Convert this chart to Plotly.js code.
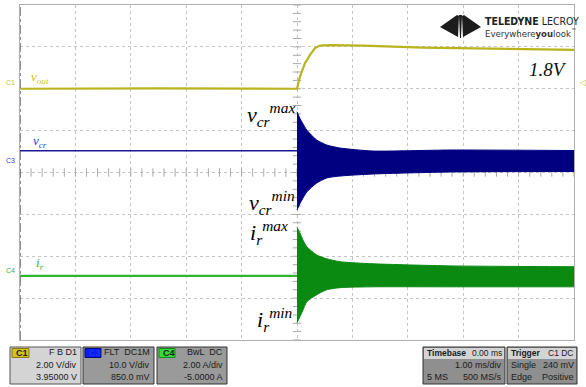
<!DOCTYPE html>
<html>
<head>
<meta charset="utf-8">
<script src="https://cdn.plot.ly/plotly-3.0.1.min.js"></script>
<style>html,body{margin:0;padding:0;background:#fff;}#chart{width:586px;height:387px;}</style>
</head>
<body>
<div id="chart"></div>
<script>
// ---- data (x: time in ms, 1 ms/div; y: screen divisions) ----
const tVout = [-5, -2.5, 0, 0.054, 0.144, 0.235, 0.325, 0.415, 0.596, 0.897, 1.19, 2.27, 3.5, 5];
const vout  = [2.0, 2.01, 2.0, 2.29, 2.61, 2.81, 2.97, 3.03, 3.04, 3.04, 3.03, 2.98, 2.95, 2.93];

const tPre   = [-5, 0];
const vcrPre = [0.52, 0.52];
const irPre  = [-2.47, -2.47];

const tEnv   = [0, 0.05, 0.1, 0.175, 0.356, 0.536, 0.776, 1.37, 2.76, 5];
const vcrMax = [1.45, 1.30, 1.18, 1.015, 0.776, 0.657, 0.585, 0.513, 0.537, 0.525];
const vcrMin = [-0.896, -0.75, -0.63, -0.466, -0.251, -0.131, -0.084, -0.036, 0.012, 0.024];
const irMax  = [-1.31, -1.44, -1.59, -1.77, -1.97, -2.06, -2.13, -2.18, -2.23, -2.25];
const irMin  = [-3.59, -3.45, -3.31, -3.09, -2.92, -2.80, -2.75, -2.73, -2.73, -2.73];

// ---- geometry helpers (pixel -> paper) ----
const L = 20, R = 574, T = 5, B = 340;
const X = px => (px - L) / (R - L);
const Y = py => (B - py) / (B - T);

const YEL = '#b9b31c', BLU = '#000080', GRN = '#0b8a12';

// minor tick marks on centre lines (decoration)
const tkx = [], tky = [], tvx = [], tvy = [];
for (let i = -25; i <= 25; i++) { tkx.push(i / 5); tky.push(0); }
for (let i = -20; i <= 20; i++) { tvx.push(0); tvy.push(i / 5); }

const traces = [
  {x: tkx, y: tky, mode: 'markers', marker: {symbol: 'line-ns', size: 6, line: {width: 1, color: '#aaa'}}, hoverinfo: 'skip'},
  {x: tvx, y: tvy, mode: 'markers', marker: {symbol: 'line-ew', size: 6, line: {width: 1, color: '#aaa'}}, hoverinfo: 'skip'},
  {x: tVout, y: vout, mode: 'lines', line: {color: YEL, width: 2.2}},
  {x: tPre, y: vcrPre, mode: 'lines', line: {color: '#1a1a99', width: 1.3}},
  {x: tEnv, y: vcrMax, mode: 'lines', line: {color: BLU, width: 1, shape: 'spline', smoothing: 0.6}},
  {x: tEnv, y: vcrMin, mode: 'lines', fill: 'tonexty', fillcolor: BLU, line: {color: BLU, width: 1, shape: 'spline', smoothing: 0.6}},
  {x: tPre, y: irPre, mode: 'lines', line: {color: '#2fb52f', width: 2.2}},
  {x: tEnv, y: irMax, mode: 'lines', line: {color: GRN, width: 1, shape: 'spline', smoothing: 0.6}},
  {x: tEnv, y: irMin, mode: 'lines', fill: 'tonexty', fillcolor: GRN, line: {color: GRN, width: 1, shape: 'spline', smoothing: 0.6}}
];

const serif = 'Liberation Serif, Times New Roman, serif';
const sans = 'Liberation Sans, Arial, sans-serif';
const cond = 'DejaVu Sans Condensed, Liberation Sans Narrow, Arial Narrow, sans-serif';
const ann = [];
function txt(px, py, text, opts) {
  ann.push(Object.assign({xref: 'paper', yref: 'paper', x: X(px), y: Y(py), text: text, showarrow: false,
    xanchor: 'left', yanchor: 'middle', font: {family: sans, size: 9, color: '#1a1a1a'}}, opts || {}));
}
// big annotations
txt(297, 114, '<i>v</i><sub><i>cr</i></sub><sup><i>max</i></sup>', {xanchor: 'right', font: {family: serif, size: 22, color: '#000'}});
txt(297, 202, '<i>v</i><sub><i>cr</i></sub><sup><i>min</i></sup>', {xanchor: 'right', font: {family: serif, size: 22, color: '#000'}});
txt(290, 232, '<i>i</i><sub><i>r</i></sub><sup><i>max</i></sup>', {xanchor: 'right', font: {family: serif, size: 22, color: '#000'}});
txt(295, 319, '<i>i</i><sub><i>r</i></sub><sup><i>min</i></sup>', {xanchor: 'right', font: {family: serif, size: 22, color: '#000'}});
txt(527, 69, '<i>1.8V</i>', {font: {family: serif, size: 19, color: '#111'}});
// channel labels
txt(29, 77, '<i>v<sub>out</sub></i>', {font: {family: serif, size: 13, color: '#c9bf2a'}});
txt(31, 141, '<i>v<sub>cr</sub></i>', {font: {family: serif, size: 13, color: '#2a3ed6'}});
txt(34, 263, '<i>i<sub>r</sub></i>', {font: {family: serif, size: 13, color: '#2fb52f'}});
txt(4, 83, 'C1', {font: {family: sans, size: 7, color: '#c9bf2a'}});
txt(4, 160, 'C3', {font: {family: sans, size: 7, color: '#2a3ed6'}});
txt(4, 270, 'C4', {font: {family: sans, size: 7, color: '#2fb52f'}});
txt(577, 83, '◁', {font: {family: 'DejaVu Sans', size: 8, color: '#c9bf2a'}});
// logo text
txt(483, 21, '<b>TELEDYNE</b> LECROY', {font: {family: cond, size: 10.5, color: '#222'}});
txt(483, 33, 'Everywhere<b>you</b>look<sup>™</sup>', {font: {family: cond, size: 9.5, color: '#333'}});

// bottom info panels
const shapes = [];
function rect(x0, y0, x1, y1, fill, line) {
  shapes.push({type: 'rect', xref: 'paper', yref: 'paper', x0: X(x0), x1: X(x1), y0: Y(y1), y1: Y(y0),
    fillcolor: fill, line: {color: line || 'rgba(0,0,0,0)', width: line ? 1 : 0}, layer: 'above'});
}
function poly(pts, fill) {
  let p = 'M' + pts.map(q => X(q[0]) + ',' + Y(q[1])).join(' L') + ' Z';
  shapes.push({type: 'path', xref: 'paper', yref: 'paper', path: p, fillcolor: fill, line: {width: 0}, layer: 'above'});
}
// logo icon
poly([[440, 27], [457, 15], [459, 16], [458, 37]], '#1c1c1c');
poly([[481, 27], [464, 15], [462, 16], [463, 37]], '#1c1c1c');
poly([[459, 15], [462, 15], [461, 38], [460, 38]], '#1c1c1c');

// left border dash-dot
shapes.push({type: 'line', xref: 'x', yref: 'y', x0: -5, x1: -5, y0: -4, y1: 4, line: {color: '#444', width: 1.2, dash: 'dashdot'}, layer: 'above'});

// C1
rect(10, 347, 81, 384, '#d4d4d4', '#555');
rect(12, 348.5, 29, 357.5, '#d6c21e', '#8a7a10');
txt(14, 353, '<b>C1</b>', {font: {family: sans, size: 9, color: '#222'}});
txt(79, 352, 'F B D1', {xanchor: 'right'});
txt(79, 365, '2.00 V/div', {xanchor: 'right'});
txt(79, 377, '3.95000 V', {xanchor: 'right'});
// C3
rect(83, 347, 154, 384, '#9a9a9a', '#333');
rect(85, 348.5, 101, 357.5, '#0a1ee6', '#000c80');
txt(87, 353, '<b>C3</b>', {font: {family: sans, size: 9, color: '#1a35ff'}});
txt(152, 352, 'FLT  DC1M', {xanchor: 'right'});
txt(152, 365, '10.0 V/div', {xanchor: 'right'});
txt(152, 377, '850.0 mV', {xanchor: 'right'});
// C4
rect(157, 347, 227, 384, '#9a9a9a', '#333');
rect(159, 348.5, 175, 357.5, '#33dd33', '#188818');
txt(161, 353, '<b>C4</b>', {font: {family: sans, size: 9, color: '#222'}});
txt(225, 352, 'BwL  DC', {xanchor: 'right'});
txt(225, 365, '2.00 A/div', {xanchor: 'right'});
txt(225, 377, '-5.0000 A', {xanchor: 'right'});
// Timebase
rect(423, 347, 505, 384, '#8f8f8f', '#333');
rect(424, 348, 504, 359, '#d4d4d4');
txt(425, 353, '<b>Timebase</b>', {font: {family: sans, size: 8.5, color: '#1a1a1a'}});
txt(504, 353, '0.00 ms', {xanchor: 'right', font: {family: sans, size: 8.5, color: '#1a1a1a'}});
txt(504, 365, '1.00 ms/div', {xanchor: 'right'});
txt(425, 377, '5 MS');
txt(504, 377, '500 MS/s', {xanchor: 'right'});
// Trigger
rect(507, 347, 577, 384, '#8f8f8f', '#333');
rect(508, 348, 576, 359, '#d4d4d4');
txt(509, 353, '<b>Trigger</b>', {font: {family: sans, size: 8.5, color: '#1a1a1a'}});
txt(576, 353, 'C1 DC', {xanchor: 'right', font: {family: sans, size: 8.5, color: '#1a1a1a'}});
txt(509, 365, 'Single');
txt(576, 365, '240 mV', {xanchor: 'right'});
txt(509, 377, 'Edge');
txt(576, 377, 'Positive', {xanchor: 'right'});

const layout = {
  width: 586, height: 387,
  margin: {l: L, r: 586 - R, t: T, b: 387 - B, pad: 0},
  paper_bgcolor: '#ffffff', plot_bgcolor: '#ffffff',
  showlegend: false,
  xaxis: {range: [-5, 5], dtick: 1, tick0: -5, showticklabels: false, ticks: '', zeroline: false,
          showgrid: true, gridcolor: '#c4c4c4', griddash: 'dot', gridwidth: 1,
          showline: true, mirror: true, linecolor: '#b0b0b0', linewidth: 1, fixedrange: true},
  yaxis: {range: [-4, 4], dtick: 1, tick0: -4, showticklabels: false, ticks: '', zeroline: false,
          showgrid: true, gridcolor: '#c4c4c4', griddash: 'dot', gridwidth: 1,
          showline: true, mirror: true, linecolor: '#b0b0b0', linewidth: 1, fixedrange: true},
  annotations: ann,
  shapes: shapes
};
Plotly.newPlot('chart', traces, layout, {displayModeBar: false, staticPlot: true});
</script>
</body>
</html>
